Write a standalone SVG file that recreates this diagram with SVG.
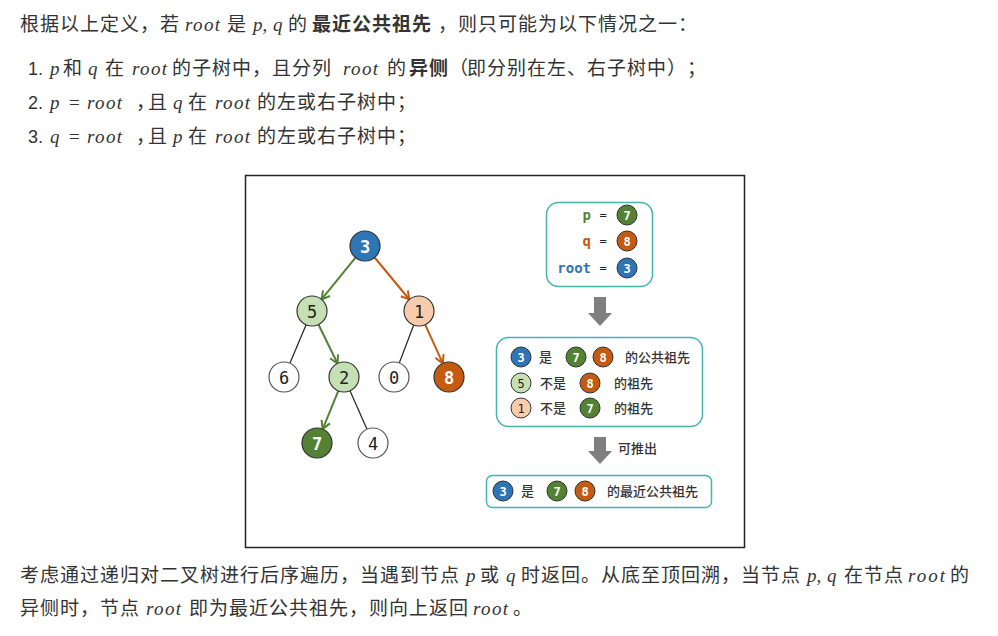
<svg xmlns="http://www.w3.org/2000/svg" width="998" height="636" viewBox="0 0 998 636">
<style>
.t{font-family:"Noto Sans CJK SC","Noto Sans",sans-serif;font-size:19px;letter-spacing:1px;fill:#333}
.tb{font-weight:bold}
.cm{letter-spacing:-7px}
.pl{letter-spacing:-2px}
.m{font-family:"Liberation Serif","Noto Serif",serif;font-style:italic;font-size:19px;fill:#333}
.mr{font-family:"Liberation Serif",serif;font-size:19px;fill:#333}
.d{font-family:"Liberation Sans",sans-serif;font-size:18px;fill:#333}
.nd{stroke:#333;stroke-width:1.2}
.wn{fill:#fff;stroke:#555;stroke-width:1.2}
.nt{font-family:"DejaVu Sans Mono",monospace;font-size:17px;text-anchor:middle;dominant-baseline:central;fill:#222}
.ntw{font-family:"DejaVu Sans Mono",monospace;font-size:17px;font-weight:bold;text-anchor:middle;dominant-baseline:central;fill:#fff}
.sn{stroke:#333;stroke-width:1}
.st{font-family:"DejaVu Sans Mono",monospace;font-size:12px;font-weight:bold;text-anchor:middle;dominant-baseline:central;fill:#fff}
.stk{font-family:"DejaVu Sans Mono",monospace;font-size:12px;text-anchor:middle;dominant-baseline:central;fill:#222}
.pt{font-family:"Noto Sans CJK SC",sans-serif;font-size:13px;font-weight:500;fill:#333}
.var{font-family:"DejaVu Sans Mono",monospace;font-size:14px;font-weight:bold;text-anchor:end}
.box{fill:#fff;stroke:#45b5aa;stroke-width:1.5}
.blue{fill:#2e75b6}.dg{fill:#548235}.or{fill:#c55a11}.lg{fill:#c5e0b4}.lo{fill:#f8cbad}
.eg{stroke:#548235;stroke-width:2;fill:none}
.eo{stroke:#c55a11;stroke-width:2;fill:none}
.ek{stroke:#222;stroke-width:1.2;fill:none}
.ga{fill:#7f7f7f}
</style>
<defs>
<marker id="ag" markerUnits="userSpaceOnUse" markerWidth="12" markerHeight="12" refX="10" refY="6" orient="auto"><path d="M2,1.5 L10,6 L2,10.5" fill="none" stroke="#548235" stroke-width="2"/></marker>
<marker id="ao" markerUnits="userSpaceOnUse" markerWidth="12" markerHeight="12" refX="10" refY="6" orient="auto"><path d="M2,1.5 L10,6 L2,10.5" fill="none" stroke="#c55a11" stroke-width="2"/></marker>
</defs>
<rect width="998" height="636" fill="#fff"/>

<!-- top text -->
<g id="para1">
<text y="31"><tspan class="t" x="20">根据以上定义，若</tspan><tspan class="m" x="185" textLength="35" lengthAdjust="spacing">root</tspan><tspan class="t" x="227">是</tspan><tspan class="m" x="253">p</tspan><tspan class="mr">,</tspan><tspan class="m" x="273">q</tspan><tspan class="t" x="288">的</tspan><tspan class="t tb" x="312">最近公共祖先</tspan><tspan class="t" x="438">，则只可能为以下情况之一：</tspan></text>
<text y="75"><tspan class="d" x="28">1.</tspan><tspan class="m" x="50">p</tspan><tspan class="t" x="63">和</tspan><tspan class="m" x="88">q</tspan><tspan class="t" x="105">在</tspan><tspan class="m" x="132" textLength="35" lengthAdjust="spacing">root</tspan><tspan class="t" x="172">的子树中，且分列</tspan><tspan class="m" x="343" textLength="35" lengthAdjust="spacing">root</tspan><tspan class="t" x="387">的</tspan><tspan class="t tb" x="409">异侧</tspan><tspan class="t pl" x="449">（</tspan><tspan class="t" x="467">即分别在左、右子树中</tspan><tspan class="t" x="667">）</tspan><tspan class="t" x="687">；</tspan></text>
<text y="109"><tspan class="d" x="28">2.</tspan><tspan class="m" x="50">p</tspan><tspan class="mr" x="69">=</tspan><tspan class="m" x="87" textLength="35" lengthAdjust="spacing">root</tspan><tspan class="t cm" x="136">，</tspan><tspan class="t" x="148">且</tspan><tspan class="m" x="173">q</tspan><tspan class="t" x="188">在</tspan><tspan class="m" x="215" textLength="35" lengthAdjust="spacing">root</tspan><tspan class="t" x="257">的左或右子树中；</tspan></text>
<text y="143"><tspan class="d" x="28">3.</tspan><tspan class="m" x="50">q</tspan><tspan class="mr" x="69">=</tspan><tspan class="m" x="87" textLength="35" lengthAdjust="spacing">root</tspan><tspan class="t cm" x="136">，</tspan><tspan class="t" x="148">且</tspan><tspan class="m" x="173">p</tspan><tspan class="t" x="188">在</tspan><tspan class="m" x="215" textLength="35" lengthAdjust="spacing">root</tspan><tspan class="t" x="257">的左或右子树中；</tspan></text>
</g>

<!-- frame -->
<rect x="245.5" y="175.5" width="499" height="372" fill="#fff" stroke="#222" stroke-width="1.5"/>

<!-- connectors -->
<g id="connectors">
<line class="eg" x1="355.5" y1="257.6" x2="321.5" y2="299.4" marker-end="url(#ag)"/>
<line class="eo" x1="374.6" y1="257.5" x2="409.4" y2="299.5" marker-end="url(#ao)"/>
<line class="eg" x1="318.5" y1="324.5" x2="337.5" y2="363.5" marker-end="url(#ag)"/>
<line class="eo" x1="425.2" y1="324.7" x2="442.8" y2="363.3" marker-end="url(#ao)"/>
<line class="eg" x1="338.3" y1="390.9" x2="322.7" y2="429.1" marker-end="url(#ag)"/>
<line class="ek" x1="306.1" y1="324.8" x2="289.9" y2="363.2"/>
<line class="ek" x1="413.7" y1="325" x2="399.3" y2="363"/>
<line class="ek" x1="350" y1="390.7" x2="367" y2="429.3"/>
</g>

<!-- nodes -->
<g id="n3"><circle cx="365" cy="246" r="15" class="blue nd"/><text x="365" y="247" class="ntw">3</text></g>
<g id="n5"><circle cx="312" cy="311" r="15" class="lg nd"/><text x="312" y="312" class="nt">5</text></g>
<g id="n1"><circle cx="419" cy="311" r="15" class="lo nd"/><text x="419" y="312" class="nt">1</text></g>
<g id="n6"><circle cx="284" cy="377" r="15" class="wn"/><text x="284" y="378" class="nt">6</text></g>
<g id="n2"><circle cx="344" cy="377" r="15" class="lg nd"/><text x="344" y="378" class="nt">2</text></g>
<g id="n0"><circle cx="394" cy="377" r="15" class="wn"/><text x="394" y="378" class="nt">0</text></g>
<g id="n8"><circle cx="449" cy="377" r="15" class="or nd"/><text x="449" y="378" class="ntw">8</text></g>
<g id="n7"><circle cx="317" cy="443" r="15" class="dg nd"/><text x="317" y="444" class="ntw">7</text></g>
<g id="n4"><circle cx="373" cy="443" r="15" class="wn"/><text x="373" y="444" class="nt">4</text></g>

<!-- panel 1 -->
<g id="box1">
<rect class="box" x="546.5" y="202.5" width="106" height="84" rx="12"/>
<text x="591" y="220" class="var" fill="#548235">p</text>
<text x="591" y="246" class="var" fill="#c55a11">q</text>
<text x="591" y="273" class="var" fill="#2e75b6">root</text>
<text x="603" y="215" class="stk">=</text>
<text x="603" y="241" class="stk">=</text>
<text x="603" y="268" class="stk">=</text>
<circle cx="627" cy="215" r="10" class="dg sn"/><text x="627" y="216" class="st">7</text>
<circle cx="627" cy="241" r="10" class="or sn"/><text x="627" y="242" class="st">8</text>
<circle cx="627" cy="268" r="10" class="blue sn"/><text x="627" y="269" class="st">3</text>
</g>

<polygon class="ga" points="594,297 606,297 606,313 612,313 600,326 588,313 594,313"/>

<!-- panel 2 -->
<g id="box2">
<rect class="box" x="496.5" y="337.5" width="206" height="89" rx="12"/>
<circle cx="521" cy="357" r="10" class="blue sn"/><text x="521" y="358" class="st">3</text>
<text x="539" y="362" class="pt">是</text>
<circle cx="576" cy="357" r="10" class="dg sn"/><text x="576" y="358" class="st">7</text>
<circle cx="603" cy="357" r="10" class="or sn"/><text x="603" y="358" class="st">8</text>
<text x="625" y="362" class="pt">的公共祖先</text>
<circle cx="521" cy="383" r="10" class="lg sn"/><text x="521" y="384" class="stk">5</text>
<text x="540" y="388" class="pt">不是</text>
<circle cx="590" cy="383" r="10" class="or sn"/><text x="590" y="384" class="st">8</text>
<text x="614" y="388" class="pt">的祖先</text>
<circle cx="521" cy="408" r="10" class="lo sn"/><text x="521" y="409" class="stk">1</text>
<text x="540" y="413" class="pt">不是</text>
<circle cx="590" cy="408" r="10" class="dg sn"/><text x="590" y="409" class="st">7</text>
<text x="614" y="413" class="pt">的祖先</text>
</g>

<polygon class="ga" points="594,437 606,437 606,451 612,451 600,464 588,451 594,451"/>
<text x="618" y="453" class="pt" font-weight="bold">可推出</text>

<!-- panel 3 -->
<g id="box3">
<rect class="box" x="486.5" y="475.5" width="225" height="32" rx="6"/>
<circle cx="503" cy="491" r="10" class="blue sn"/><text x="503" y="492" class="st">3</text>
<text x="521" y="496" class="pt">是</text>
<circle cx="557" cy="491" r="10" class="dg sn"/><text x="557" y="492" class="st">7</text>
<circle cx="585" cy="491" r="10" class="or sn"/><text x="585" y="492" class="st">8</text>
<text x="607" y="496" class="pt">的最近公共祖先</text>
</g>

<!-- bottom text -->
<g id="para2">
<text y="582"><tspan class="t" x="20">考虑通过递归对二叉树进行后序遍历，当遇到节点</tspan><tspan class="m" x="466">p</tspan><tspan class="t" x="480">或</tspan><tspan class="m" x="506">q</tspan><tspan class="t" x="521">时返回。从底至顶回溯，当节点</tspan><tspan class="m" x="807">p</tspan><tspan class="mr">,</tspan><tspan class="m" x="827">q</tspan><tspan class="t" x="844">在节点</tspan><tspan class="m" x="908" textLength="37" lengthAdjust="spacing">root</tspan><tspan class="t" x="950">的</tspan></text>
<text y="615"><tspan class="t" x="20">异侧时，节点</tspan><tspan class="m" x="146" textLength="35" lengthAdjust="spacing">root</tspan><tspan class="t" x="189">即为最近公共祖先，则向上返回</tspan><tspan class="m" x="473" textLength="35" lengthAdjust="spacing">root</tspan><tspan class="t" x="513">。</tspan></text>
</g>
</svg>
